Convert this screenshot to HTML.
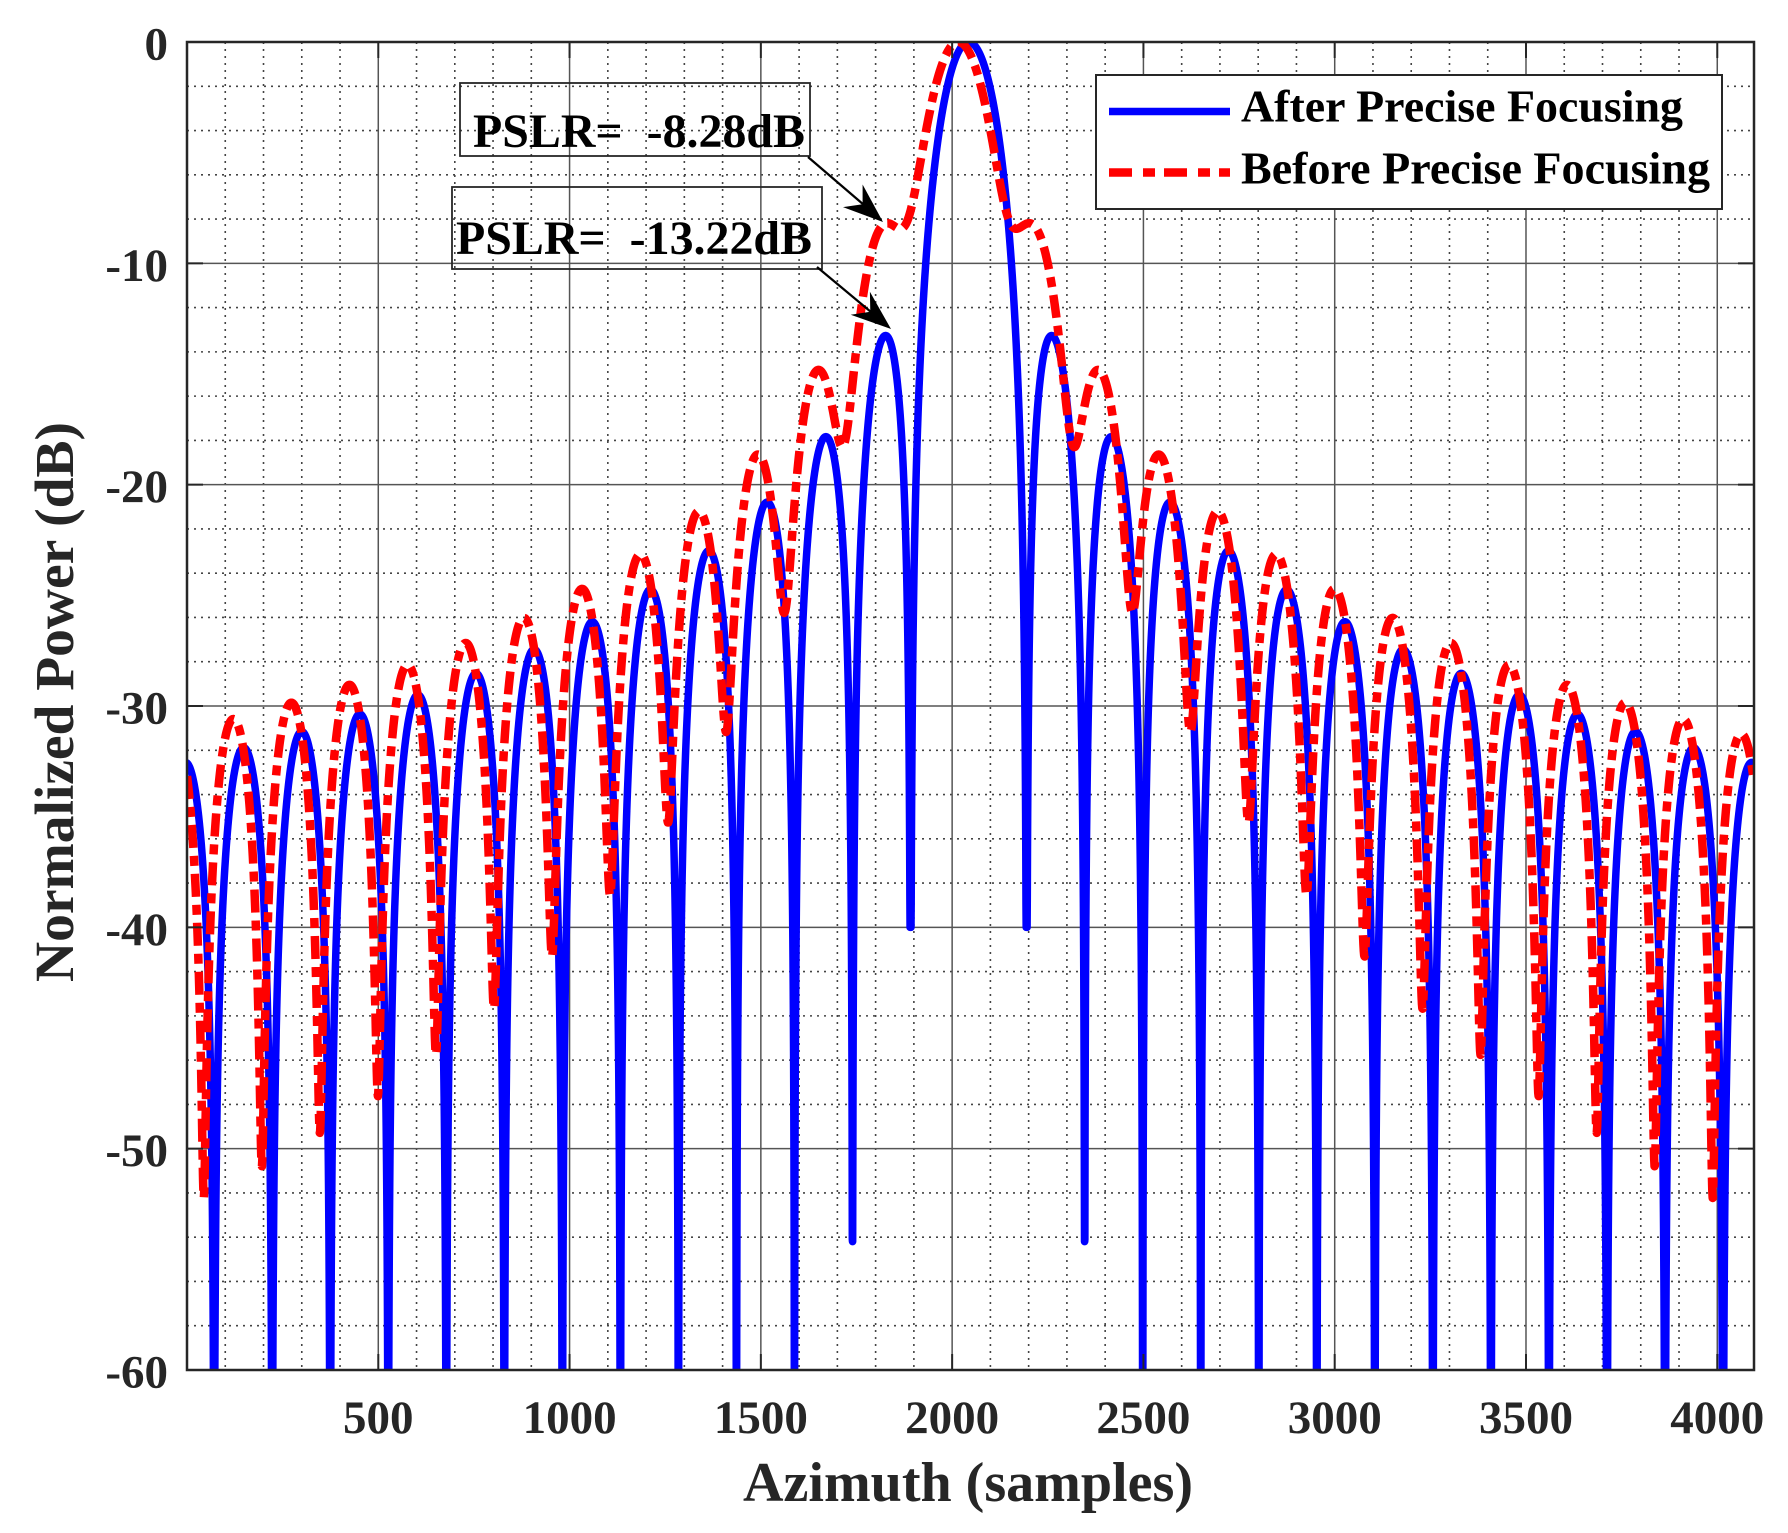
<!DOCTYPE html>
<html>
<head>
<meta charset="utf-8">
<style>
html,body{margin:0;padding:0;background:#fff;}
svg{display:block;}
text{font-family:"Liberation Serif","Times New Roman",serif;font-weight:bold;}
</style>
</head>
<body>
<svg id="s" xmlns="http://www.w3.org/2000/svg" width="1788" height="1533" viewBox="0 0 1788 1533">
<defs><clipPath id="cp"><rect x="187" y="42" width="1567" height="1328"/></clipPath></defs>
<rect width="1788" height="1533" fill="#fff"/>
<g id="grid"></g>
<g clip-path="url(#cp)">
  <path id="blue" d="" fill="none" stroke="#0000ff" stroke-width="7.5" stroke-linejoin="round" stroke-linecap="round"/>
  <path id="red" d="" fill="none" stroke="#ff0000" stroke-width="8.5" stroke-dasharray="23 8 10 8" stroke-linejoin="round"/>
</g>
<g id="ticks"></g>
<rect x="187" y="42" width="1567" height="1328" fill="none" stroke="#262626" stroke-width="2.5"/>
<g id="labels" fill="#262626" font-size="47"></g>

<!-- axis labels -->
<text x="968" y="1501" font-size="56" text-anchor="middle" fill="#262626" textLength="450" lengthAdjust="spacingAndGlyphs">Azimuth (samples)</text>
<text transform="translate(73,702) rotate(-90)" font-size="55" text-anchor="middle" fill="#262626" textLength="560" lengthAdjust="spacingAndGlyphs">Normalized Power (dB)</text>

<!-- legend -->
<rect x="1096" y="75" width="626" height="134" fill="#fff" stroke="#262626" stroke-width="2"/>
<line x1="1109" y1="111.5" x2="1230" y2="111.5" stroke="#0000ff" stroke-width="7.5"/>
<line x1="1109" y1="172.5" x2="1230" y2="172.5" stroke="#ff0000" stroke-width="8.5" stroke-dasharray="23 11 12 9"/>
<text x="1241" y="121.7" font-size="45" fill="#000" textLength="442" lengthAdjust="spacingAndGlyphs">After Precise Focusing</text>
<text x="1241" y="183.3" font-size="45" fill="#000" textLength="469" lengthAdjust="spacingAndGlyphs">Before Precise Focusing</text>

<!-- PSLR annotations -->
<rect x="460" y="83" width="350" height="73" fill="none" stroke="#262626" stroke-width="1.8"/>
<text x="473" y="147" font-size="48" fill="#000" style="white-space:pre" textLength="332" lengthAdjust="spacingAndGlyphs">PSLR=  -8.28dB</text>
<rect x="452" y="187" width="370" height="82" fill="none" stroke="#262626" stroke-width="1.8"/>
<text x="456" y="254" font-size="48" fill="#000" style="white-space:pre" textLength="356" lengthAdjust="spacingAndGlyphs">PSLR=  -13.22dB</text>

<line x1="808" y1="157" x2="864" y2="205" stroke="#000" stroke-width="2.2"/>
<polygon points="883,222 843,207.1 862.6,204.3 862.6,184.5" fill="#000"/>
<line x1="817" y1="267" x2="871" y2="312" stroke="#000" stroke-width="2.2"/>
<polygon points="891,329 850.7,314.8 870.3,311.7 869.9,291.8" fill="#000"/>
</svg>

<script>
(function(){
  var X0=187,X1=1754,Y0=42,Y1=1370,XMAX=4096;
  var sx=(X1-X0)/XMAX, sy=(Y1-Y0)/60;
  function px(x){return X0+x*sx;}
  function py(d){return Y0-d*sy;}
  var g='';
  // minor grid
  for(var v=100;v<XMAX;v+=100){
    if(v%500!==0){
      var X=px(v).toFixed(2);
      g+='<line x1="'+X+'" y1="'+Y0+'" x2="'+X+'" y2="'+Y1+'" stroke="#444" stroke-width="1.6" stroke-dasharray="2 5"/>';
    }
  }
  for(var d=-2;d>-60;d-=2){
    if(d%10!==0){
      var Y=py(d).toFixed(2);
      g+='<line x1="'+X0+'" y1="'+Y+'" x2="'+X1+'" y2="'+Y+'" stroke="#444" stroke-width="1.6" stroke-dasharray="2 5"/>';
    }
  }
  // major grid
  for(var v2=500;v2<XMAX;v2+=500){
    var X2=px(v2).toFixed(2);
    g+='<line x1="'+X2+'" y1="'+Y0+'" x2="'+X2+'" y2="'+Y1+'" stroke="#555" stroke-width="1.5"/>';
  }
  for(var d2=-10;d2>-60;d2-=10){
    var Y2=py(d2).toFixed(2);
    g+='<line x1="'+X0+'" y1="'+Y2+'" x2="'+X1+'" y2="'+Y2+'" stroke="#555" stroke-width="1.5"/>';
  }
  document.getElementById('grid').innerHTML=g;

  // ticks
  var t='';
  for(var v3=500;v3<XMAX;v3+=500){
    var X3=px(v3).toFixed(2);
    t+='<line x1="'+X3+'" y1="'+Y1+'" x2="'+X3+'" y2="'+(Y1-16)+'" stroke="#262626" stroke-width="2"/>';
    t+='<line x1="'+X3+'" y1="'+Y0+'" x2="'+X3+'" y2="'+(Y0+16)+'" stroke="#262626" stroke-width="2"/>';
  }
  for(var d3=-10;d3>-60;d3-=10){
    var Y3=py(d3).toFixed(2);
    t+='<line x1="'+X0+'" y1="'+Y3+'" x2="'+(X0+16)+'" y2="'+Y3+'" stroke="#262626" stroke-width="2"/>';
    t+='<line x1="'+X1+'" y1="'+Y3+'" x2="'+(X1-16)+'" y2="'+Y3+'" stroke="#262626" stroke-width="2"/>';
  }
  document.getElementById('ticks').innerHTML=t;

  // tick labels
  var L='';
  for(var v4=500;v4<=4000;v4+=500){
    L+='<text x="'+px(v4).toFixed(2)+'" y="1433" text-anchor="middle">'+v4+'</text>';
  }
  for(var d4=0;d4>=-60;d4-=10){
    L+='<text x="168" y="'+(py(d4)+17.5).toFixed(2)+'" text-anchor="end">'+(d4===0?'0':('-'+(-d4)))+'</text>';
  }
  document.getElementById('labels').innerHTML=L;

  // blue curve: ideal sinc
  var cB=2043, s=151.7;
  function sinc(u){ if(Math.abs(u)<1e-9) return 1; var a=Math.PI*u; return Math.sin(a)/a; }
  var xs=[];
  for(var x=0;x<=4096;x+=0.5) xs.push(x);
  for(var k=-14;k<=14;k++){ if(k===0) continue; var xn=cB+k*s; if(xn>0&&xn<4096) xs.push(xn); }
  xs.sort(function(a,b){return a-b;});
  var pb='';
  for(var i=0;i<xs.length;i++){
    var xx=xs[i], u=(xx-cB)/s, m=Math.abs(sinc(u)), kk=Math.abs(Math.round(u));
    var fl=1e-4;
    if(kk===1) fl=Math.pow(10,-40/20);
    else if(kk===2) fl=Math.pow(10,-54.2/20);
    if(m<fl) m=fl;
    var db=20*Math.log10(m); if(db<-64) db=-64;
    pb+=(i?'L':'M')+px(xx).toFixed(2)+' '+py(db).toFixed(2);
  }
  document.getElementById('blue').setAttribute('d',pb);

  // red curve: sinc with quadratic phase error
  var cR=2016, beta=1.76, N=600;
  var cf=[],sf=[],wf=[],ff=[];
  for(var j=0;j<=N;j++){
    var f=-0.5+j/N; ff.push(f);
    wf.push((j===0||j===N)?1:(j%2?4:2));
  }
  function hmag(u){
    var re=0,im=0;
    for(var j=0;j<=N;j++){
      var f=ff[j], ph=2*Math.PI*f*u+4*beta*f*f;
      re+=wf[j]*Math.cos(ph); im+=wf[j]*Math.sin(ph);
    }
    return Math.sqrt(re*re+im*im)/(3*N);
  }
  var vals=[],mx=0;
  for(var x2=0;x2<=4096;x2+=1){
    var h=hmag((x2-cR)/s); vals.push(h); if(h>mx) mx=h;
  }
  var pr='';
  for(var i2=0;i2<vals.length;i2++){
    var db2=20*Math.log10(vals[i2]/mx); if(db2<-64) db2=-64;
    pr+=(i2?'L':'M')+px(i2).toFixed(2)+' '+py(db2).toFixed(2);
  }
  document.getElementById('red').setAttribute('d',pr);
})();
</script>
</body>
</html>
